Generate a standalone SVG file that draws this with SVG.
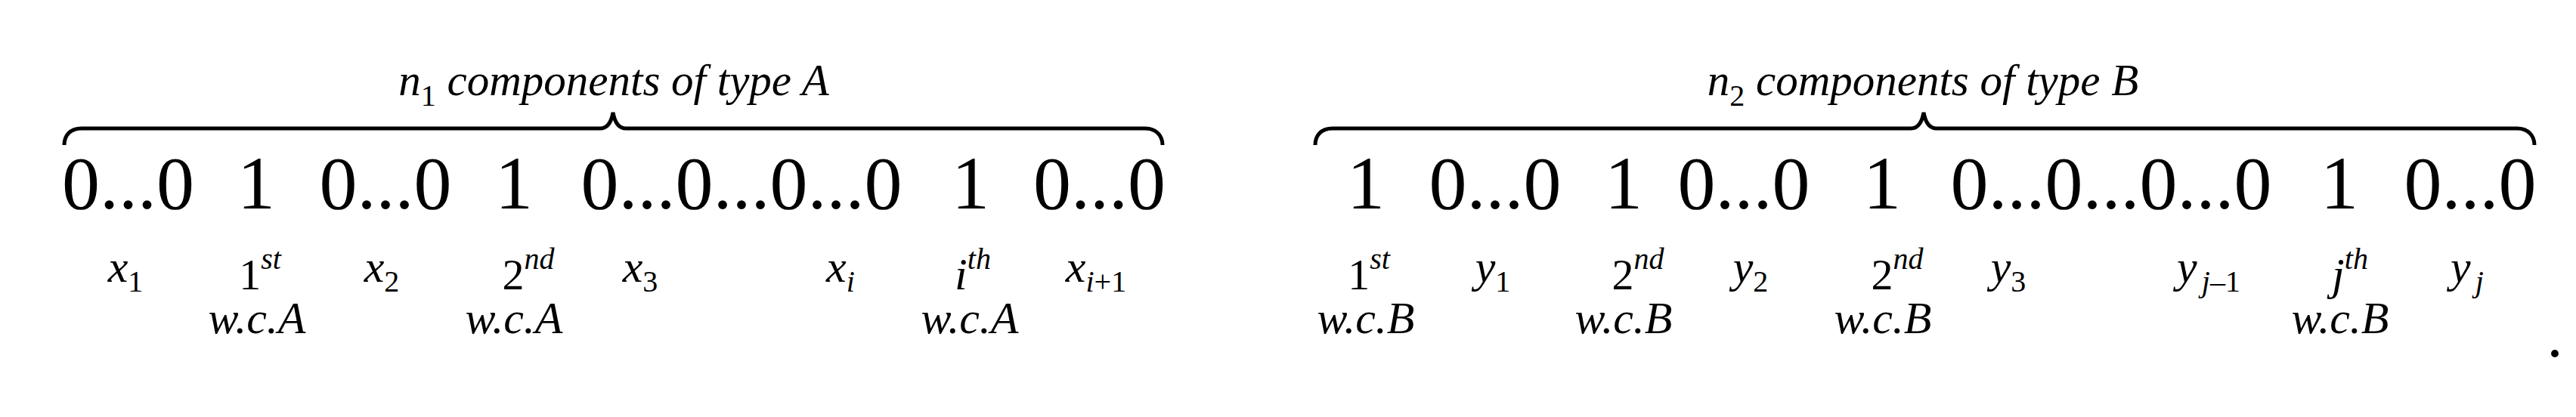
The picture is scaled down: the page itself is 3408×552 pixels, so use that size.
<svg xmlns="http://www.w3.org/2000/svg" width="3408" height="552" viewBox="0 0 3408 552">
<style>
.bg{fill:#fff}
.main{font-family:"Liberation Serif","Times New Roman",serif;font-size:100px;fill:#000;text-anchor:middle}
.it{font-family:"Liberation Serif","Times New Roman",serif;font-style:italic;font-size:60px;fill:#000;text-anchor:middle}
.hd{font-size:59px}
.up{font-family:"Liberation Serif","Times New Roman",serif;font-size:58px;fill:#000;text-anchor:middle}
.sm{font-size:40px}
.rm{font-style:normal}
.brace{fill:none;stroke:#000;stroke-width:5;stroke-linejoin:miter}
</style>
<rect class="bg" x="0" y="0" width="3408" height="552"/>
<g id="connectors">
<path class="brace" d="M85,192 C85,180 92,170 108,170 L794,170 C804,170 809,160 811,149 C813,160 818,170 828,170 L1515,170 C1530,170 1538,180 1538,192"/>
<path class="brace" d="M1740,192 C1740,180 1747,170 1763,170 L2528,170 C2538,170 2543,160 2545,149 C2547,160 2552,170 2562,170 L3330,170 C3345,170 3353,180 3353,192"/>
</g>
<g id="headerA"><text class="it hd" x="812" y="126">n<tspan class="sm rm" dy="14">1</tspan><tspan dy="-14"> components of  type A</tspan></text></g>
<g id="headerB"><text class="it hd" x="2544" y="126">n<tspan class="sm rm" dy="14">2</tspan><tspan dy="-14"> components of  type B</tspan></text></g>
<g id="rowA">
<text class="main" x="169.5" y="276">0...0</text>
<text class="main" x="339" y="276">1</text>
<text class="main" x="510" y="276">0...0</text>
<text class="main" x="680" y="276">1</text>
<text class="main" x="981" y="276">0...0...0...0</text>
<text class="main" x="1284" y="276">1</text>
<text class="main" x="1454.5" y="276">0...0</text>
</g>
<g id="rowB">
<text class="main" x="1807" y="276">1</text>
<text class="main" x="1978" y="276">0...0</text>
<text class="main" x="2148" y="276">1</text>
<text class="main" x="2307" y="276">0...0</text>
<text class="main" x="2490" y="276">1</text>
<text class="main" x="2793" y="276">0...0...0...0</text>
<text class="main" x="3095" y="276">1</text>
<text class="main" x="3268" y="276">0...0</text>
</g>
<g id="labelsA">
<text class="it" x="166" y="373">x<tspan class="sm rm" dy="13">1</tspan></text>
<text class="up" x="344" y="383">1<tspan class="sm" font-style="italic" dy="-27">st</tspan></text>
<text class="it" x="340" y="441">w.c.A</text>
<text class="it" x="505" y="373">x<tspan class="sm rm" dy="13">2</tspan></text>
<text class="up" x="699" y="383">2<tspan class="sm" font-style="italic" dy="-27">nd</tspan></text>
<text class="it" x="680" y="441">w.c.A</text>
<text class="it" x="847" y="373">x<tspan class="sm rm" dy="13">3</tspan></text>
<text class="it" x="1112" y="373">x<tspan class="sm" dy="13">i</tspan></text>
<text class="it" x="1287" y="383">i<tspan class="sm" dy="-27">th</tspan></text>
<text class="it" x="1283" y="441">w.c.A</text>
<text class="it" x="1450" y="373">x<tspan class="sm" dy="13">i</tspan><tspan class="sm rm">+1</tspan></text>
</g>
<g id="labelsB">
<text class="up" x="1811" y="383">1<tspan class="sm" font-style="italic" dy="-27">st</tspan></text>
<text class="it" x="1807" y="441">w.c.B</text>
<text class="it" x="1975" y="373">y<tspan class="sm rm" dy="13">1</tspan></text>
<text class="up" x="2167" y="383">2<tspan class="sm" font-style="italic" dy="-27">nd</tspan></text>
<text class="it" x="2148" y="441">w.c.B</text>
<text class="it" x="2316" y="373">y<tspan class="sm rm" dy="13">2</tspan></text>
<text class="up" x="2510" y="383">2<tspan class="sm" font-style="italic" dy="-27">nd</tspan></text>
<text class="it" x="2491" y="441">w.c.B</text>
<text class="it" x="2657" y="373">y<tspan class="sm rm" dy="13">3</tspan></text>
<text class="it" x="2922" y="373">y<tspan class="sm" dx="6" dy="13">j</tspan><tspan class="sm rm">–1</tspan></text>
<text class="it" x="3109" y="383">j<tspan class="sm" dy="-27">th</tspan></text>
<text class="it" x="3096" y="441">w.c.B</text>
<text class="it" x="3264" y="373">y<tspan class="sm" dx="6" dy="13">j</tspan></text>
<text class="up" x="3380" y="472" style="font-size:84px">.</text>
</g>
</svg>
